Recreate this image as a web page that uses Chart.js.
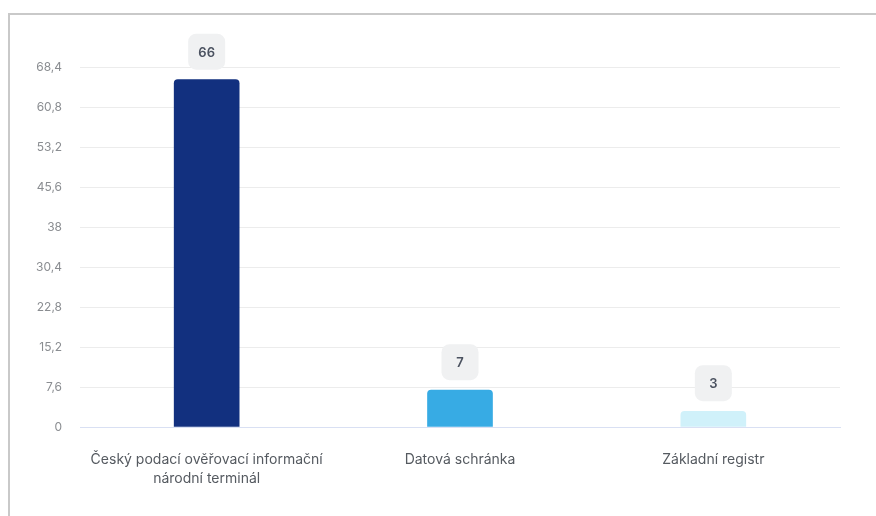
<!DOCTYPE html>
<html>
<head>
<meta charset="utf-8">
<script src="https://cdn.jsdelivr.net/npm/chart.js@4/dist/chart.umd.min.js"></script>
<style>
  html, body { margin: 0; padding: 0; background: #fff; }
  body { width: 876px; height: 516px; overflow: hidden; position: relative; }
  .box {
    position: absolute; left: 8px; top: 13px; right: -4px; bottom: -4px;
    border-left: 2px solid #c9c9c9; border-top: 2px solid #c9c9c9;
  }
  .wrap { position: absolute; left: 10px; top: 15px; width: 866px; height: 501px; }
</style>
</head>
<body>
<div class="box"></div>
<div class="wrap"><canvas id="chart"></canvas></div>
<script>
// kategorie a hodnoty
const categories = [
  ['Český podací ověřovací informační', 'národní terminál'],
  'Datová schránka',
  'Základní registr'
];
const values = [66, 7, 3];
const barColors = ['#12307f', '#37abe4', '#d0f1fa'];
const yMax = 68.4;
const yStep = 7.6;

// popisky nad sloupci v sedem boxu
const valueBoxes = {
  id: 'valueBoxes',
  afterDatasetsDraw(chart) {
    const ctx = chart.ctx;
    const meta = chart.getDatasetMeta(0);
    ctx.save();
    ctx.font = '600 13px Inter, "Noto Sans", sans-serif';
    ctx.textAlign = 'center';
    ctx.textBaseline = 'middle';
    meta.data.forEach((bar, i) => {
      const w = 37, h = 36;
      const x = bar.x - w / 2;
      const y = bar.y - 10 - h;
      ctx.fillStyle = '#f0f1f2';
      ctx.beginPath();
      ctx.roundRect(x, y, w, h, 8);
      ctx.fill();
      ctx.fillStyle = '#4b5260';
      ctx.fillText(String(values[i]), bar.x, y + h / 2 + 1);
    });
    ctx.restore();
  }
};

new Chart(document.getElementById('chart'), {
  type: 'bar',
  data: {
    labels: categories,
    datasets: [{
      data: values,
      backgroundColor: barColors,
      borderRadius: 4,
      barThickness: 65
    }]
  },
  options: {
    responsive: true,
    maintainAspectRatio: false,
    animation: false,
    layout: { padding: { top: 52, right: 36, left: 0, bottom: 0 } },
    plugins: {
      legend: { display: false },
      tooltip: { enabled: false }
    },
    scales: {
      x: {
        grid: { display: false },
        border: { color: '#d9e0f3', width: 1 },
        ticks: {
          color: '#555a60',
          font: { family: 'Inter, "Noto Sans", sans-serif', size: 14, lineHeight: 1.3 },
          padding: 16,
          maxRotation: 0
        },
        afterFit(scale) { scale.height = 89; }
      },
      y: {
        min: 0,
        max: yMax,
        grid: { color: '#ececec', drawTicks: false },
        border: { display: false },
        ticks: {
          stepSize: yStep,
          color: '#8a8d91',
          font: { family: 'Inter, "Noto Sans", sans-serif', size: 12 },
          padding: 18,
          callback: v => String(+v.toFixed(1)).replace('.', ',')
        },
        afterFit(scale) { scale.width = 70; }
      }
    }
  },
  plugins: [valueBoxes]
});
</script>
</body>
</html>
